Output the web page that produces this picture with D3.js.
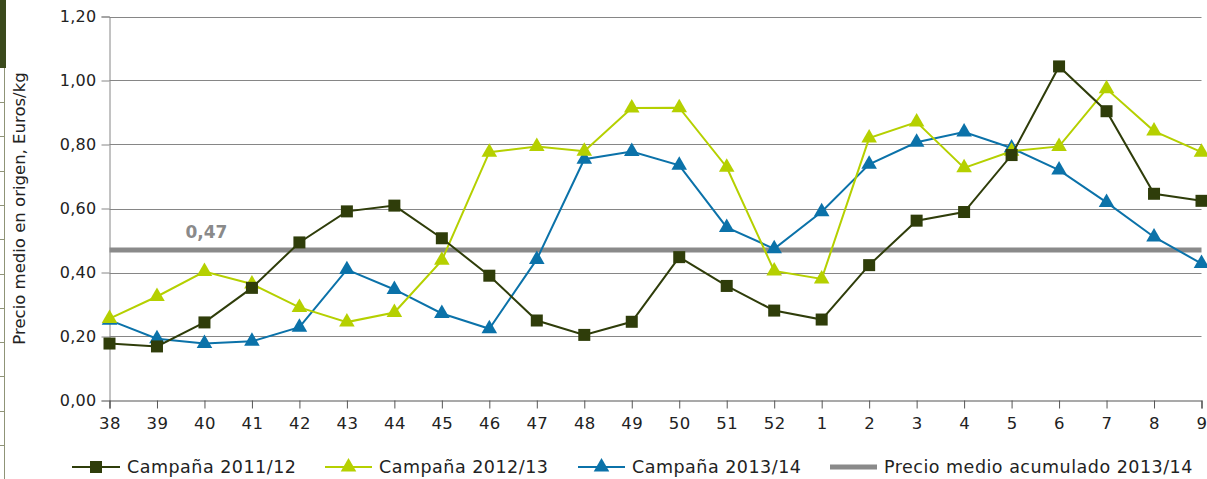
<!DOCTYPE html>
<html><head><meta charset="utf-8">
<script src="https://cdn.jsdelivr.net/npm/d3@7"></script>
<style>body{margin:0;background:#fff;} svg{display:block;font-family:"DejaVu Sans",sans-serif;}</style>
</head><body>
<svg id="c" width="1207" height="479"></svg>
<script>
const weeks = ["38","39","40","41","42","43","44","45","46","47","48","49","50","51","52","1","2","3","4","5","6","7","8","9"];
const camp1112 = [0.178,0.169,0.244,0.352,0.494,0.591,0.609,0.507,0.390,0.250,0.205,0.246,0.448,0.358,0.281,0.253,0.423,0.562,0.589,0.767,1.044,0.904,0.646,0.624];
const camp1213 = [0.256,0.325,0.403,0.364,0.291,0.245,0.275,0.438,0.776,0.794,0.779,0.914,0.915,0.729,0.405,0.380,0.820,0.870,0.727,0.779,0.794,0.974,0.842,0.776];
const camp1314 = [0.251,0.193,0.178,0.185,0.229,0.409,0.347,0.272,0.224,0.441,0.754,0.778,0.735,0.541,0.474,0.590,0.738,0.807,0.839,0.789,0.720,0.619,0.511,0.428];
const precioMedio = 0.47;
const yTicks = [0,0.2,0.4,0.6,0.8,1.0,1.2];
const seriesNames = ["Campaña 2011/12","Campaña 2012/13","Campaña 2013/14","Precio medio acumulado 2013/14"];

const svg = d3.select("#c");
const L = 109.5, R = 1201.5, T = 16.5, B = 400.5;
const x = d3.scalePoint().domain(weeks).range([L, R]);
const y = d3.scaleLinear().domain([0, 1.2]).range([B, T]);
const fmt = v => d3.format(".2f")(v).replace(".", ",");

// left page decoration
svg.append("rect").attr("x",0).attr("y",0).attr("width",6).attr("height",68).attr("fill","#3b4a1c");
svg.append("line").attr("x1",4.5).attr("x2",4.5).attr("y1",68).attr("y2",479).attr("stroke","#8f9477").attr("stroke-width",1);
d3.range(11).forEach(i=>{
  const yy = Math.round(102 + i*34.3)+0.5;
  svg.append("line").attr("x1",0).attr("x2",4.5).attr("y1",yy).attr("y2",yy).attr("stroke","#8f9477");
});

// gridlines
svg.append("g").selectAll("line").data(yTicks.filter(d=>d>0)).join("line")
  .attr("x1",L).attr("x2",R).attr("y1",d=>Math.round(y(d))+0.5).attr("y2",d=>Math.round(y(d))+0.5)
  .attr("stroke","#868686").attr("stroke-width",1);

// y axis
const yAxis = svg.append("g").attr("transform",`translate(${L},0)`)
  .call(d3.axisLeft(y).tickValues(yTicks).tickFormat(fmt).tickSize(8).tickPadding(5));
yAxis.select(".domain").attr("stroke","#868686");
yAxis.selectAll(".tick line").attr("stroke","#868686");
yAxis.selectAll("text").attr("font-size",16).attr("letter-spacing",0.3).attr("fill","#222").attr("font-family","DejaVu Sans");

// x axis
const xAxis = svg.append("g").attr("transform",`translate(0,${B})`)
  .call(d3.axisBottom(x).tickSize(8).tickPadding(9));
xAxis.select(".domain").attr("stroke","#555").attr("stroke-width",1.2);
xAxis.selectAll(".tick line").attr("stroke","#555");
xAxis.selectAll("text").attr("font-size",16.5).attr("letter-spacing",0.4).attr("fill","#222").attr("font-family","DejaVu Sans");

// y label
svg.append("text").attr("transform",`translate(25,${(T+B)/2}) rotate(-90)`)
  .attr("text-anchor","middle").attr("font-size",16.5).attr("fill","#222").text("Precio medio en origen, Euros/kg");

// average line
svg.append("line").attr("x1",L).attr("x2",R).attr("y1",y(precioMedio)).attr("y2",y(precioMedio))
  .attr("stroke","#8a8a8a").attr("stroke-width",5);
svg.append("text").attr("x",x("40")+2).attr("y",y(precioMedio)-12).attr("text-anchor","middle")
  .attr("font-size",17).attr("font-weight","bold").attr("fill","#8a8a8a").text(fmt(precioMedio));

const colors = ["#2f3d0a","#b5d000","#0b72a9"];
const data = [camp1112, camp1213, camp1314];
const line = d3.line().x((d,i)=>x(weeks[i])).y(d=>y(d));
const tri = d3.symbol().type(d3.symbolTriangle).size(105);

function marker(g, idx, cx, cy, s){
  if(idx===0){
    g.append("rect").attr("x",cx-s/2).attr("y",cy-s/2).attr("width",s).attr("height",s).attr("fill",colors[0]);
  } else {
    g.append("path").attr("d",tri).attr("transform",`translate(${cx},${cy})`).attr("fill",colors[idx]);
  }
}

[2,1,0].forEach(k=>{
  const g = svg.append("g");
  g.append("path").datum(data[k]).attr("d",line).attr("fill","none").attr("stroke",colors[k]).attr("stroke-width",2);
  data[k].forEach((v,i)=>marker(g,k,x(weeks[i]),y(v),12));
});

// legend
const legY = 467;
const legItems = [
  {x1:72,x2:120,tx:127},
  {x1:325,x2:372,tx:379},
  {x1:578,x2:625,tx:632},
  {x1:830,x2:877,tx:884}
];
legItems.forEach((it,i)=>{
  const g = svg.append("g");
  if(i<3){
    g.append("line").attr("x1",it.x1).attr("x2",it.x2).attr("y1",legY).attr("y2",legY).attr("stroke",colors[i]).attr("stroke-width",2);
    marker(g,i,(it.x1+it.x2)/2,legY,12);
  } else {
    g.append("line").attr("x1",it.x1).attr("x2",it.x2).attr("y1",legY).attr("y2",legY).attr("stroke","#8a8a8a").attr("stroke-width",5);
  }
  g.append("text").attr("x",it.tx).attr("y",legY).attr("dy","0.35em").attr("font-size",17.5).attr("letter-spacing",0.5).attr("fill","#222").text(seriesNames[i]);
});
</script>
</body></html>
